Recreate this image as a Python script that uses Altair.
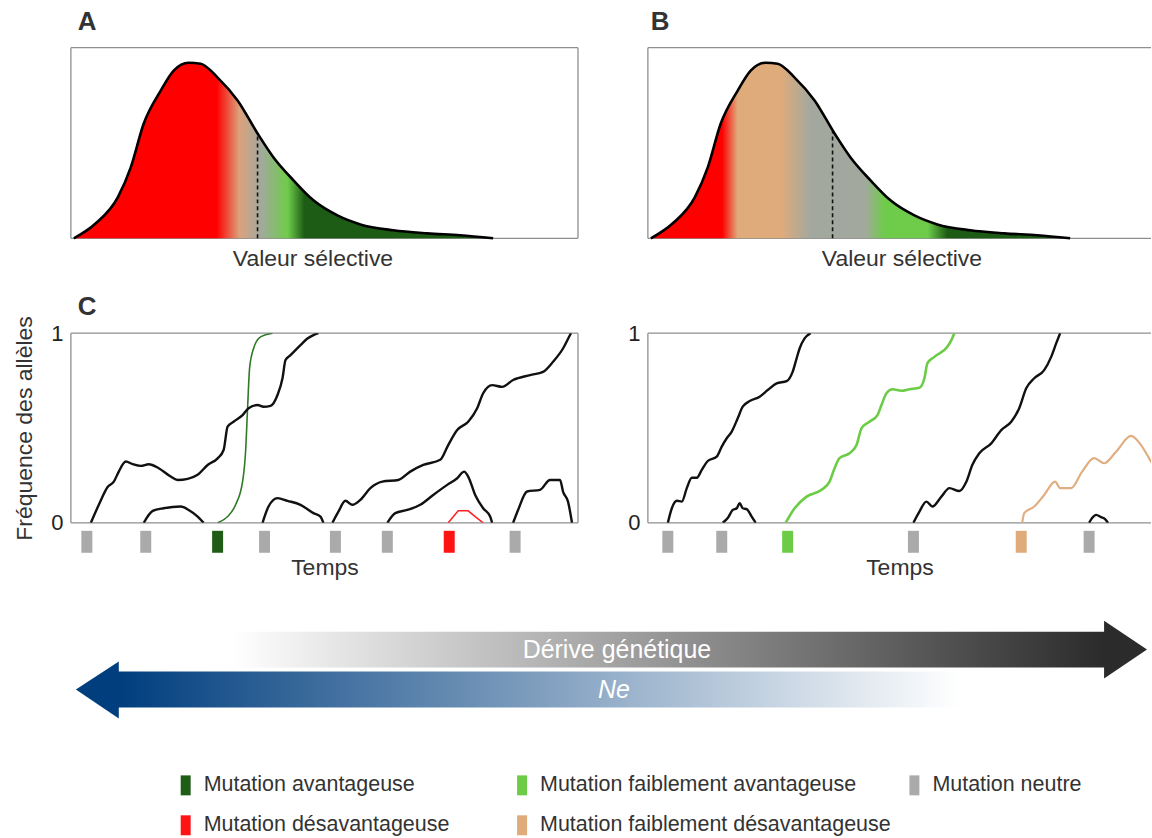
import altair as alt
import pandas as pd

FONT = "Liberation Sans"
INK = "#333333"
BORDER = "#8f8f8f"

# ---------------- mutation categories (legend + markers) ----------------
kinds = ["avantageuse", "faiblement avantageuse", "neutre",
         "désavantageuse", "faiblement désavantageuse"]
kind_labels = ["Mutation avantageuse", "Mutation faiblement avantageuse", "Mutation neutre",
               "Mutation désavantageuse", "Mutation faiblement désavantageuse"]
kind_colors = ["#1f5c16", "#6ccc48", "#aaaaaa", "#ff1414", "#dfab7b"]
legend_col = [0, 1, 2, 0, 1]
legend_row = [0, 0, 0, 1, 1]

# ---------------- panels A / B : distribution of fitness effects ----------------
fit_s = [3, 25, 47, 60, 73, 90, 103, 118, 130, 147, 167, 187, 203, 223, 243, 267, 290, 323, 357, 390, 423]
fit_d = [0, 0.079, 0.215, 0.372, 0.602, 0.775, 0.88, 0.921, 0.916, 0.843, 0.723, 0.55, 0.424,
         0.304, 0.199, 0.12, 0.073, 0.042, 0.026, 0.016, 0]
neutral_s_A, neutral_d_A = 187, 0.55
neutral_s_B, neutral_d_B = 185, 0.56

stops_A = [(0, "#fe0000"), (0.34, "#fe0000"), (0.395, "#dca27c"), (0.445, "#a3a89e"),
           (0.51, "#6fcc4a"), (0.55, "#1d5c15"), (1, "#1d5c15")]
stops_B = [(0, "#fe0000"), (0.17, "#fe0000"), (0.207, "#dfab7b"), (0.31, "#dfab7b"),
           (0.381, "#a3a89e"), (0.51, "#a3a89e"), (0.557, "#6fcc4a"), (0.66, "#6fcc4a"),
           (0.707, "#1d5c15"), (1, "#1d5c15")]

# ---------------- panel C : allele trajectories (time, frequency) ----------------
left_traj = {
    "L1": ("neutre",
           [20, 28, 37, 43, 48, 55, 62, 70, 78, 88, 100, 107, 117, 127, 137, 147, 153, 157, 163, 172,
            178, 187, 193, 200, 207, 212, 215, 220, 230, 237, 243, 248],
           [0, 0.095, 0.19, 0.217, 0.27, 0.323, 0.309, 0.30, 0.309, 0.288, 0.244, 0.226, 0.232, 0.253,
            0.305, 0.34, 0.384, 0.507, 0.533, 0.568, 0.604, 0.621, 0.612, 0.617, 0.674, 0.762, 0.858,
            0.884, 0.937, 0.972, 0.99, 1.0]),
    "L2": ("neutre", [73, 82, 93, 110, 118, 127, 133], [0, 0.063, 0.077, 0.086, 0.068, 0.033, 0]),
    "G": ("avantageuse", [147, 157, 165, 172, 175, 177, 179, 183, 190, 202],
          [0, 0.033, 0.095, 0.217, 0.375, 0.604, 0.814, 0.919, 0.98, 1.0]),
    "L3": ("neutre", [192, 198, 207, 217, 230, 243, 250, 253], [0, 0.086, 0.13, 0.116, 0.095, 0.051, 0.033, 0]),
    "L4": ("neutre",
           [262, 268, 275, 282, 290, 300, 312, 328, 340, 353, 370, 378, 387, 398, 407, 413, 422, 432,
            443, 460, 473, 483, 493, 500, 501],
           [0, 0.059, 0.116, 0.095, 0.121, 0.183, 0.217, 0.226, 0.27, 0.305, 0.332, 0.41, 0.489, 0.533,
            0.604, 0.683, 0.726, 0.717, 0.753, 0.779, 0.796, 0.849, 0.919, 0.99, 1.0]),
    "L5": ("neutre", [317, 325, 337, 350, 363, 377, 387, 394, 398, 405, 413, 420, 422],
           [0, 0.051, 0.068, 0.095, 0.147, 0.2, 0.235, 0.27, 0.244, 0.147, 0.077, 0.033, 0]),
    "R": ("désavantageuse", [378, 388, 398, 405, 413], [0, 0.063, 0.063, 0.033, 0]),
    "L6": ("neutre", [443, 448, 457, 470, 480, 490, 493, 498, 502],
           [0, 0.068, 0.165, 0.174, 0.226, 0.226, 0.165, 0.112, 0]),
}
left_mut_t = [16, 75, 147, 194, 265, 317, 379, 445]
left_mut_kind = ["neutre", "neutre", "avantageuse", "neutre", "neutre", "neutre", "désavantageuse", "neutre"]

right_traj = {
    "R1": ("neutre",
           [20, 24, 29, 34, 39, 44, 49, 54, 60, 69, 74, 79, 84, 90, 95, 102, 112, 120, 129, 139, 145,
            149, 152, 157, 163],
           [0, 0.077, 0.116, 0.112, 0.183, 0.238, 0.238, 0.279, 0.326, 0.349, 0.402, 0.446, 0.481,
            0.551, 0.612, 0.642, 0.665, 0.7, 0.735, 0.747, 0.796, 0.867, 0.919, 0.972, 1.0]),
    "R2": ("neutre", [75, 80, 85, 89, 92, 95, 99, 104, 108],
           [0, 0.025, 0.068, 0.077, 0.104, 0.077, 0.072, 0.033, 0]),
    "LG": ("faiblement avantageuse",
           [138, 147, 159, 174, 182, 187, 192, 202, 209, 214, 222, 230, 234, 239, 245, 254, 262, 272,
            277, 280, 287, 300, 304, 307],
           [0, 0.077, 0.138, 0.174, 0.217, 0.288, 0.341, 0.367, 0.41, 0.498, 0.533, 0.568, 0.621,
            0.683, 0.704, 0.696, 0.704, 0.712, 0.762, 0.841, 0.875, 0.928, 0.963, 1.0]),
    "R3": ("neutre",
           [266, 272, 279, 285, 294, 302, 312, 319, 325, 332, 344, 354, 364, 372, 379, 387, 397, 404, 409, 413],
           [0, 0.059, 0.112, 0.086, 0.138, 0.183, 0.168, 0.217, 0.305, 0.367, 0.419, 0.489, 0.533,
            0.604, 0.709, 0.762, 0.805, 0.875, 0.946, 1.0]),
    "T": ("faiblement désavantageuse",
          [375, 377, 387, 397, 408, 413, 424, 435, 447, 457, 469, 484, 494, 504, 514],
          [0, 0.051, 0.086, 0.147, 0.217, 0.183, 0.183, 0.27, 0.341, 0.314, 0.375, 0.458, 0.41, 0.323, 0.24]),
    "R4": ("neutre", [442, 445, 449, 454, 458, 461], [0, 0.025, 0.042, 0.03, 0.02, 0]),
}
right_mut_t = [20, 74, 140, 266, 374, 442]
right_mut_kind = ["neutre", "neutre", "faiblement avantageuse", "neutre", "faiblement désavantageuse", "neutre"]

# line styles per category: colour, width, interpolation
line_style = {
    "neutre": ("#111111", 2.4, "monotone"),
    "avantageuse": ("#2f7a27", 1.6, "monotone"),
    "désavantageuse": ("#ff2020", 1.5, "linear"),
    "faiblement avantageuse": ("#6ccc48", 2.6, "monotone"),
    "faiblement désavantageuse": ("#e0ae80", 2.2, "monotone"),
}

# ---------------- arrows (schematic) ----------------
drift_x = [162, 1035, 1035, 1078]
drift_lo = [14, 14, 3, 32]
drift_hi = [50, 50, 61, 32]
ne_x = [5, 48, 48, 890]
ne_lo = [72, 44, 54, 54]
ne_hi = [72, 101, 90, 90]
arrow_labels = ["Dérive génétique", "Ne"]
arrow_label_x = [547, 544]
arrow_label_y = [32, 72]

# ---------------- layout sizes ----------------
W_L, W_R = 508, 504
H_AB, H_C, H_BOT = 191, 190, 220
RECT_SHAPE = "M-0.5,-1L0.5,-1L0.5,1L-0.5,1Z"


def frame(width, height, right=True):
    one = pd.DataFrame({"k": [0]})
    base = alt.Chart(one).mark_rule(color=BORDER, strokeWidth=1.3)
    parts = [
        base.encode(x=alt.value(0), x2=alt.value(width), y=alt.value(0)),
        base.encode(x=alt.value(0), x2=alt.value(width), y=alt.value(height)),
        base.encode(x=alt.value(0), y=alt.value(0), y2=alt.value(height)),
    ]
    if right:
        parts.append(base.encode(x=alt.value(width), y=alt.value(0), y2=alt.value(height)))
    return parts


def panel_letter(letter, dx):
    return alt.Chart(pd.DataFrame({"letter": [letter]})).mark_text(
        fontSize=26, fontWeight="bold", color=INK, font=FONT, align="left",
        baseline="alphabetic").encode(x=alt.value(dx), y=alt.value(-18), text="letter:N")


def dfe_panel(letter, dx, stops, ns, nd, width, right, title_x):
    df = pd.DataFrame({"s": fit_s, "d": fit_d})
    X = alt.X("s:Q", scale=alt.Scale(domain=[0, width], nice=False, zero=False),
              axis=alt.Axis(title="Valeur sélective", labels=False, ticks=False, domain=False,
                            grid=False, titlePadding=9, titleX=title_x))
    Y = alt.Y("d:Q", scale=alt.Scale(domain=[0, 1], nice=False), axis=None)
    grad = alt.Gradient(gradient="linear",
                        stops=[alt.GradientStop(offset=o, color=c) for o, c in stops],
                        x1=0, x2=1, y1=0, y2=0)
    area = alt.Chart(df).mark_area(color=grad, interpolate="monotone").encode(x=X, y=Y)
    line = alt.Chart(df).mark_line(color="#000000", strokeWidth=2.6,
                                   interpolate="monotone").encode(x=X, y=Y)
    # dashed vertical marker of neutrality, drawn as a two-point line
    dash = alt.Chart(pd.DataFrame({"s": [ns, ns], "d": [0.0, nd]})).mark_line(
        color="#111111", strokeWidth=1.6, strokeDash=[4, 3]).encode(x=X, y=Y)
    return alt.layer(*frame(width, H_AB, right), area, dash, line,
                     panel_letter(letter, dx)).properties(width=width, height=H_AB)


def traj_panel(traj, mut_t, mut_kind, width, right, y_title, letter=None):
    rows = []
    for name, (kind, ts, fs) in traj.items():
        for t, f in zip(ts, fs):
            rows.append({"id": name, "kind": kind, "t": t, "f": f})
    df = pd.DataFrame(rows)
    X = alt.X("t:Q", scale=alt.Scale(domain=[0, width], nice=False, zero=False),
              axis=alt.Axis(title="Temps", labels=False, ticks=False, domain=False, grid=False,
                            titlePadding=34))
    if y_title:
        yaxis = alt.Axis(values=[0, 1], format="d", ticks=False, domain=False, grid=False,
                         labelPadding=8, title=y_title, titlePadding=14)
    else:
        yaxis = alt.Axis(values=[0, 1], format="d", ticks=False, domain=False, grid=False,
                         labelPadding=8, title=None)
    Y = alt.Y("f:Q", scale=alt.Scale(domain=[0, 1], nice=False), axis=yaxis)
    layers = list(frame(width, H_C, right))
    for kind in kinds:
        sub = df[df["kind"] == kind]
        if sub.empty:
            continue
        col, sw, interp = line_style[kind]
        layers.append(alt.Chart(sub).mark_line(color=col, strokeWidth=sw, interpolate=interp,
                                               clip=True).encode(x=X, y=Y, detail="id:N"))
    mk = pd.DataFrame({"t": mut_t, "kind": mut_kind})
    for kind, col in zip(kinds, kind_colors):
        sub = mk[mk["kind"] == kind]
        if sub.empty:
            continue
        layers.append(alt.Chart(sub).mark_point(
            shape=RECT_SHAPE, filled=True, opacity=1, size=484, color=col).encode(
            x=alt.X("t:Q"), y=alt.value(H_C + 19)))
    if letter:
        layers.append(panel_letter(letter, 7))
    return alt.layer(*layers).properties(width=width, height=H_C)


panelA = dfe_panel("A", 7, stops_A, neutral_s_A, neutral_d_A, W_L, True, 242)
panelB = dfe_panel("B", 3, stops_B, neutral_s_B, neutral_d_B, W_R, False, 254)
panelCl = traj_panel(left_traj, left_mut_t, left_mut_kind, W_L, True,
                     "Fréquence des allèles", letter="C")
panelCr = traj_panel(right_traj, right_mut_t, right_mut_kind, W_R, False, None)

# ---------------- bottom: arrows + legend (drawn across the whole width) ----------------
XS = alt.Scale(domain=[0, W_L], nice=False, zero=False)
YS = alt.Scale(domain=[0, H_BOT], nice=False, reverse=True)
drift_df = pd.DataFrame({"x": drift_x, "lo": drift_lo, "hi": drift_hi})
ne_df = pd.DataFrame({"x": ne_x, "lo": ne_lo, "hi": ne_hi})
grad_drift = alt.Gradient(gradient="linear", x1=0, x2=1, y1=0, y2=0, stops=[
    alt.GradientStop(offset=0, color="#ffffff"),
    alt.GradientStop(offset=0.953, color="#2b2b2b"),
    alt.GradientStop(offset=1, color="#2b2b2b")])
grad_ne = alt.Gradient(gradient="linear", x1=0, x2=1, y1=0, y2=0, stops=[
    alt.GradientStop(offset=0, color="#003e7e"),
    alt.GradientStop(offset=0.049, color="#003e7e"),
    alt.GradientStop(offset=1, color="#ffffff")])

bx = alt.X("x:Q", scale=XS, axis=None)
drift_arrow = alt.Chart(drift_df).mark_area(color=grad_drift, interpolate="linear").encode(
    x=bx, y=alt.Y("lo:Q", scale=YS, axis=None), y2="hi:Q")
ne_arrow = alt.Chart(ne_df).mark_area(color=grad_ne, interpolate="linear").encode(
    x=bx, y=alt.Y("lo:Q", scale=YS, axis=None), y2="hi:Q")
drift_label = alt.Chart(pd.DataFrame({"x": [arrow_label_x[0]], "y": [arrow_label_y[0]],
                                      "label": [arrow_labels[0]]})).mark_text(
    color="white", fontSize=25, font=FONT, align="center", baseline="middle").encode(
    x=bx, y=alt.Y("y:Q", scale=YS, axis=None), text="label:N")
ne_label = alt.Chart(pd.DataFrame({"x": [arrow_label_x[1]], "y": [arrow_label_y[1]],
                                   "label": [arrow_labels[1]]})).mark_text(
    color="white", fontSize=25, font=FONT, fontStyle="italic", align="center",
    baseline="middle").encode(
    x=bx, y=alt.Y("y:Q", scale=YS, axis=None), text="label:N")

leg_df = pd.DataFrame({"kind": kinds, "label": kind_labels, "col": legend_col, "row": legend_row})
LX = alt.Scale(domain=[0, 1, 2], range=[115, 452, 845], zero=False, nice=False)
LY = alt.Scale(domain=[0, 1], range=[168, 208], zero=False, nice=False)
leg_layers = []
for kind, col in zip(kinds, kind_colors):
    leg_layers.append(alt.Chart(leg_df[leg_df["kind"] == kind]).mark_point(
        shape=RECT_SHAPE, filled=True, opacity=1, size=400, color=col).encode(
        x=alt.X("col:Q", scale=LX, axis=None), y=alt.Y("row:Q", scale=LY, axis=None)))
leg_tx = alt.Chart(leg_df).mark_text(
    align="left", baseline="middle", dx=18, fontSize=21.5, font=FONT, color=INK).encode(
    x=alt.X("col:Q", scale=LX, axis=None), y=alt.Y("row:Q", scale=LY, axis=None), text="label:N")

arrows = alt.layer(drift_arrow, ne_arrow, drift_label, ne_label)
legend = alt.layer(*leg_layers, leg_tx)
bottom = alt.layer(arrows, legend).resolve_scale(x="independent", y="independent").properties(
    width=W_L, height=H_BOT)

chart = alt.concat(panelA, panelB, panelCl, panelCr, bottom, columns=2,
                   spacing={"row": 95, "column": 70}, bounds="flush", align="each").properties(
    padding={"left": 13, "top": 8, "right": 0, "bottom": 0},
    background="white",
).configure_view(stroke=None).configure_axis(
    labelFont=FONT, titleFont=FONT, labelFontSize=22, titleFontSize=23,
    labelColor="#222222", titleColor=INK, titleFontWeight="normal",
).configure_text(font=FONT)

chart.save("out.html", embed_options={"renderer": "svg", "actions": False})
